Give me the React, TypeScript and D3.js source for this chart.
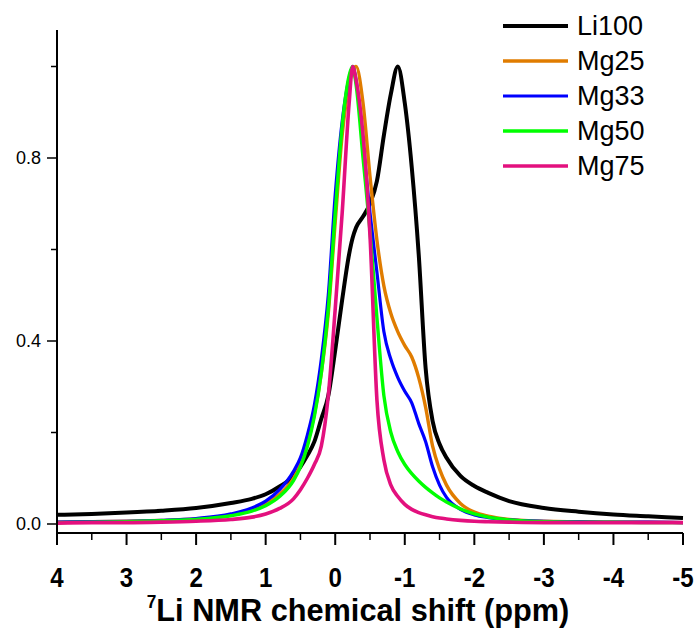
import React from "react";
import * as d3 from "d3";

const PPM = [4, 3.5, 3, 2.5, 2, 1.5, 1.2, 1.0, 0.8, 0.6, 0.5, 0.4, 0.3, 0.2, 0.1, 0.0, -0.1, -0.2, -0.25, -0.3, -0.4, -0.5, -0.6, -0.7, -0.8, -0.9, -1.0, -1.1, -1.2, -1.3, -1.4, -1.5, -1.6, -1.8, -2.0, -2.2, -2.5, -3.0, -3.5, -4.0, -4.5, -5.0];

const LI100 = [0.02, 0.022, 0.025, 0.029, 0.035, 0.046, 0.055, 0.065, 0.082, 0.105, 0.125, 0.15, 0.18, 0.23, 0.28, 0.38, 0.49, 0.59, 0.625, 0.648, 0.672, 0.7, 0.75, 0.85, 0.94, 1.0, 0.92, 0.78, 0.59, 0.34, 0.225, 0.175, 0.145, 0.105, 0.083, 0.068, 0.05, 0.035, 0.027, 0.021, 0.017, 0.013];
const MG25 = [0.004, 0.005, 0.006, 0.008, 0.011, 0.02, 0.03, 0.045, 0.065, 0.1, 0.13, 0.175, 0.24, 0.33, 0.46, 0.66, 0.85, 0.96, 0.99, 1.0, 0.92, 0.76, 0.62, 0.52, 0.46, 0.42, 0.39, 0.365, 0.32, 0.255, 0.17, 0.12, 0.085, 0.045, 0.026, 0.017, 0.01, 0.006, 0.005, 0.004, 0.004, 0.003];
const MG33 = [0.004, 0.005, 0.006, 0.008, 0.012, 0.022, 0.035, 0.05, 0.075, 0.115, 0.145, 0.195, 0.26, 0.36, 0.5, 0.72, 0.88, 0.975, 1.0, 0.97, 0.83, 0.68, 0.55, 0.42, 0.36, 0.32, 0.29, 0.265, 0.22, 0.18, 0.125, 0.085, 0.058, 0.032, 0.02, 0.014, 0.009, 0.006, 0.005, 0.004, 0.004, 0.003];
const MG50 = [0.003, 0.004, 0.005, 0.007, 0.01, 0.018, 0.028, 0.04, 0.06, 0.095, 0.125, 0.17, 0.235, 0.33, 0.47, 0.68, 0.87, 0.98, 1.0, 0.96, 0.8, 0.64, 0.45, 0.28, 0.2, 0.158, 0.13, 0.11, 0.094, 0.08, 0.068, 0.057, 0.048, 0.033, 0.022, 0.015, 0.009, 0.005, 0.004, 0.004, 0.003, 0.003];
const MG75 = [0.002, 0.003, 0.003, 0.004, 0.006, 0.01, 0.015, 0.022, 0.034, 0.055, 0.075, 0.1, 0.13, 0.17, 0.28, 0.47, 0.68, 0.92, 1.0, 0.97, 0.85, 0.63, 0.27, 0.14, 0.085, 0.06, 0.043, 0.032, 0.025, 0.02, 0.016, 0.013, 0.011, 0.008, 0.006, 0.005, 0.004, 0.003, 0.003, 0.003, 0.003, 0.003];

const SERIES_NAMES = ["Li100", "Mg25", "Mg33", "Mg50", "Mg75"];
const SERIES_VALUES = [LI100, MG25, MG33, MG50, MG75];
const SERIES_COLORS = ["#000000", "#E07C00", "#0000FF", "#00FF00", "#E3107E"];
const SERIES_WIDTHS = [4, 3.4, 3.2, 3.4, 3.6];

const X_TICKS = [4, 3, 2, 1, 0, -1, -2, -3, -4, -5];
const X_MINOR = [3.5, 2.5, 1.5, 0.5, -0.5, -1.5, -2.5, -3.5, -4.5];
const Y_TICKS = [0.0, 0.4, 0.8];
const Y_MINOR = [0.2, 0.6, 1.0];

const W = 696;
const H = 629;

export default function App() {
  const x = d3.scaleLinear().domain([4, -5]).range([57, 683]);
  const y = d3.scaleLinear().domain([0, 1]).range([524, 66.5]);
  const axisY = 533;
  const topY = 30;

  const line = d3
    .line<[number, number]>()
    .x((d) => x(d[0]))
    .y((d) => y(d[1]))
    .curve(d3.curveMonotoneX);

  const fontReg = "'Liberation Sans', Arial, sans-serif";
  const fontBold = "'Liberation Sans', Arial, sans-serif";
  const titleX = (x(4) + x(-5)) / 2 - 12;

  return (
    <svg
      width={W}
      height={H}
      style={{ position: "absolute", left: 0, top: 0, background: "#fff" }}
    >
      <rect x={0} y={0} width={W} height={H} fill="#fff" />
      {SERIES_VALUES.map((vals, i) => (
        <path
          key={SERIES_NAMES[i]}
          d={line(PPM.map((p, k) => [p, vals[k]] as [number, number])) || ""}
          fill="none"
          stroke={SERIES_COLORS[i]}
          strokeWidth={SERIES_WIDTHS[i]}
          strokeLinejoin="round"
        />
      ))}
      <line x1={x(4)} x2={x(4)} y1={topY} y2={axisY} stroke="#000" strokeWidth={2} />
      {Y_TICKS.map((t) => (
        <g key={"yt" + t}>
          <line x1={x(4) - 10} x2={x(4)} y1={y(t)} y2={y(t)} stroke="#000" strokeWidth={1.5} />
          <text
            x={x(4) - 16}
            y={y(t)}
            textAnchor="end"
            dominantBaseline="central"
            fontFamily={fontReg}
            fontSize={18}
          >
            {t.toFixed(1)}
          </text>
        </g>
      ))}
      {Y_MINOR.map((t) => (
        <line key={"ym" + t} x1={x(4) - 6} x2={x(4)} y1={y(t)} y2={y(t)} stroke="#000" strokeWidth={1.5} />
      ))}
      <line x1={x(4)} x2={x(-5)} y1={axisY} y2={axisY} stroke="#000" strokeWidth={2} />
      {X_TICKS.map((t) => (
        <g key={"xt" + t}>
          <line x1={x(t)} x2={x(t)} y1={axisY} y2={axisY + 12} stroke="#000" strokeWidth={2} />
          <text
            transform={`translate(${x(t)},${axisY + 54}) scale(0.86,1)`}
            textAnchor="middle"
            fontFamily={fontBold}
            fontWeight="bold"
            fontSize={28}
          >
            {String(t)}
          </text>
        </g>
      ))}
      {X_MINOR.map((t) => (
        <line key={"xm" + t} x1={x(t)} x2={x(t)} y1={axisY} y2={axisY + 7} stroke="#000" strokeWidth={1.5} />
      ))}
      <text
        transform={`translate(${titleX},621) scale(0.96,1)`}
        textAnchor="middle"
        fontFamily={fontBold}
        fontWeight="bold"
        fontSize={32}
      >
        <tspan fontSize={18} dy={-13}>7</tspan>
        <tspan dy={13}>Li NMR chemical shift (ppm)</tspan>
      </text>
      {SERIES_NAMES.map((n, i) => (
        <g key={"lg" + n}>
          <line
            x1={503}
            x2={568}
            y1={26 + i * 35}
            y2={26 + i * 35}
            stroke={SERIES_COLORS[i]}
            strokeWidth={SERIES_WIDTHS[i]}
          />
          <text
            x={577}
            y={26 + i * 35}
            dominantBaseline="central"
            fontFamily={fontReg}
            fontSize={27}
          >
            {n}
          </text>
        </g>
      ))}
    </svg>
  );
}
